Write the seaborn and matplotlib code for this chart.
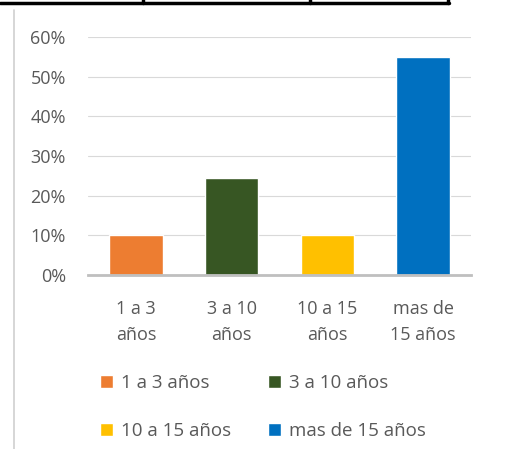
import matplotlib
matplotlib.use("Agg")
import matplotlib.pyplot as plt
from matplotlib.lines import Line2D
from matplotlib.ticker import PercentFormatter
import seaborn as sns
import pandas as pd

categorias = ["1 a 3 años", "3 a 10 años", "10 a 15 años", "mas de 15 años"]
etiquetas_x = ["1 a 3\naños", "3 a 10\naños", "10 a 15\naños", "mas de\n15 años"]
valores = [0.10, 0.245, 0.10, 0.55]
colores = ["#ED7D31", "#375623", "#FFC000", "#0070C0"]
yticks = [0, 0.1, 0.2, 0.3, 0.4, 0.5, 0.6]

sns.set_style("white")
plt.rcParams["font.family"] = ["Open Sans", "DejaVu Sans"]

W, H = 509, 449
fig = plt.figure(figsize=(W / 100, H / 100), dpi=100)
ax = fig.add_axes([88 / W, (H - 275) / H, (471 - 88) / W, (275 - 37) / H])

df = pd.DataFrame({"cat": categorias, "val": valores})
sns.barplot(data=df, x="cat", y="val", hue="cat", palette=colores,
            width=0.56, ax=ax, legend=True, saturation=1)

ax.set_ylim(0, 0.6)
ax.set_yticks(yticks)
ax.yaxis.set_major_formatter(PercentFormatter(1.0, decimals=0))
ax.set_xticks(range(len(categorias)))
ax.set_xticklabels(etiquetas_x, linespacing=1.55)
ax.set_xlabel("")
ax.set_ylabel("")
ax.tick_params(axis="y", length=0, pad=16, labelsize=13, labelcolor="#595959")
ax.tick_params(axis="x", length=0, pad=18, labelsize=13, labelcolor="#595959")
ax.grid(axis="y", color="#D9D9D9", linewidth=0.8)
ax.set_axisbelow(True)
for s in ["top", "right", "left"]:
    ax.spines[s].set_visible(False)
ax.spines["bottom"].set_color("#BFBFBF")
ax.spines["bottom"].set_linewidth(2)

# leyenda por filas
handles, labels = ax.get_legend_handles_labels()
orden = [0, 2, 1, 3]
ax.get_legend().remove()
fig.legend([handles[i] for i in orden], [labels[i] for i in orden],
           loc="upper left", bbox_to_anchor=(100 / W, 1 - 374 / H),
           ncol=2, frameon=False, fontsize=13.5, labelcolor="#595959",
           handlelength=0.7, handleheight=0.7, handletextpad=0.4,
           columnspacing=2.0, labelspacing=1.6, borderaxespad=0, borderpad=0)

# borde de tabla arriba y línea gris a la izquierda
fig.add_artist(Line2D([0, 449 / W], [1 - 2.5 / H, 1 - 2.5 / H], color="black", linewidth=2.5))
for xv in [142.5, 309.5, 447.5]:
    fig.add_artist(Line2D([xv / W, xv / W], [1 - 3 / H, 1], color="black", linewidth=2.5))
fig.add_artist(Line2D([13.5 / W, 13.5 / W], [0, 1 - 10 / H], color="#D0D0D0", linewidth=1.2))

fig.savefig("out.png", dpi=100)
